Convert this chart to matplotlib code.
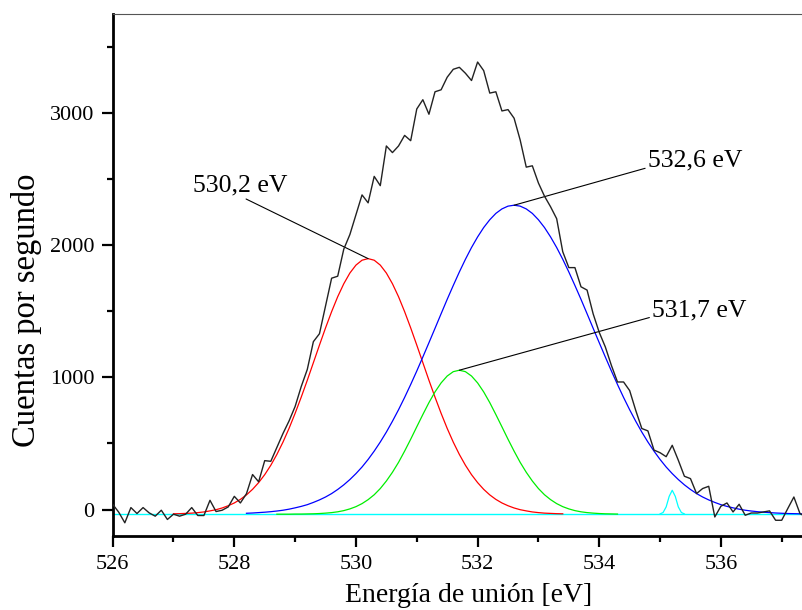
import numpy as np
import matplotlib
matplotlib.use("Agg")
import matplotlib.pyplot as plt

plt.rcParams['font.family'] = ['Liberation Serif', 'DejaVu Serif']

# measured spectrum, 0.1 eV steps starting at 526.0 eV
counts = [40, -20, -100, 15, -30, 15, -25, -50, -5, -75,
          -35, -50, -35, 15, -45, -45, 70, -15, -5, 20,
          100, 50, 120, 265, 210, 370, 365, 470, 575, 670,
          780, 930, 1060, 1270, 1330, 1540, 1750, 1765, 1970, 2080,
          2230, 2380, 2320, 2520, 2450, 2750, 2700, 2750, 2830, 2790,
          3030, 3100, 2990, 3160, 3175, 3270, 3330, 3345, 3300, 3245,
          3385, 3320, 3150, 3160, 3015, 3025, 2960, 2795, 2590, 2600,
          2470, 2370, 2290, 2200, 1950, 1830, 1830, 1685, 1660, 1480,
          1340, 1230, 1090, 965, 965, 900, 750, 613, 595, 450,
          430, 400, 486, 373, 252, 234, 121, 159, 176, -56,
          25, 50, -18, 40, -43, -26, -26, -18, -10, -81,
          -81, 8, 95, -30, -56]
energy = np.round(526.0 + 0.1 * np.arange(len(counts)), 1)

# fitted components, read every 0.1 eV
red_start = 527.0
red = [-32, -31, -29, -27, -23, -18, -10, -1, 12, 29,
       50, 77, 111, 153, 204, 264, 335, 417, 510, 614,
       728, 850, 978, 1111, 1244, 1374, 1497, 1610, 1708, 1789,
       1849, 1886, 1898,
       1886, 1849, 1789, 1708, 1610, 1497, 1374, 1244, 1111, 978,
       850, 728, 614, 510, 417, 335, 264, 204, 153, 111,
       77, 50, 29, 12, -1, -10, -18, -23, -27, -29, -31, -32]

green_start = 528.7
green = [-35, -35, -35, -34, -34, -33, -32, -30, -27, -23,
         -17, -8, 5, 22, 45, 75, 112, 159, 216, 282,
         357, 442, 532, 626, 719, 809, 890, 958, 1010, 1043,
         1054,
         1043, 1010, 958, 890, 809, 719, 626, 532, 442, 357,
         282, 216, 159, 112, 75, 45, 22, 5, -8, -17,
         -23, -27, -30, -32, -33, -34]

blue_start = 528.2
blue = [-28, -26, -23, -20, -16, -11, -5, 3, 13, 24,
        37, 54, 73, 95, 121, 152, 187, 227, 272, 322,
        379, 442, 511, 586, 668, 755, 848, 946, 1048, 1154,
        1262, 1371, 1481, 1590, 1695, 1797, 1893, 1982, 2062, 2133,
        2192, 2240, 2274, 2295, 2302,
        2295, 2274, 2240, 2192, 2133, 2062, 1982, 1893, 1797, 1695,
        1590, 1481, 1371, 1262, 1154, 1048, 946, 848, 755, 668,
        586, 511, 442, 379, 322, 272, 227, 187, 152, 121,
        95, 73, 54, 37, 24, 13, 3, -5, -11, -16,
        -20, -23, -26, -28, -30, -31, -32, -33]

# small peak near 535.2 eV, read every 0.05 eV
cyan_start = 535.0
cyan_peak = [-33, -22, 20, 100, 146, 100, 20, -22, -33]
baseline = -35

peaks = [("530,2 eV", 530.2, 1898), ("532,6 eV", 532.6, 2302), ("531,7 eV", 531.7, 1054)]


def grid(start, n, step):
    return np.round(start + step * np.arange(n), 2)


fig = plt.figure(figsize=(8.03, 6.10), dpi=100)
ax = fig.add_axes([0.1403, 0.1213, 0.8597, 0.8557])

ax.axhline(baseline, color="#00ffff", lw=1.0, zorder=2)
ax.plot(grid(red_start, len(red), 0.1), red, color="#ff0000", lw=0.9, zorder=3)
ax.plot(grid(green_start, len(green), 0.1), green, color="#00ee00", lw=0.9, zorder=3)
ax.plot(grid(blue_start, len(blue), 0.1), blue, color="#0000ff", lw=0.9, zorder=3)
ax.plot(grid(cyan_start, len(cyan_peak), 0.05), cyan_peak, color="#00ffff", lw=0.9, zorder=3)
ax.plot(energy, counts, color="#222222", lw=1.0, zorder=4)

# labels with leader lines to the peak tops
label_pos = [(528.10, 2370, "center", "bottom", (0.5, 0.0)),
             (534.80, 2637, "left", "center", (0.0, 0.2)),
             (534.87, 1508, "left", "center", (0.0, 0.2))]
for (txt, px, py), (tx, ty, ha, va, rel) in zip(peaks, label_pos):
    ax.annotate(txt, xy=(px, py), xytext=(tx, ty), textcoords="data",
                ha=ha, va=va, fontsize=18.5,
                arrowprops=dict(arrowstyle="-", color="black", lw=0.8,
                                shrinkA=0, shrinkB=0, relpos=rel))

ax.set_xlim(526, 537.35)
ax.set_ylim(-200, 3748)
ax.set_xticks([526, 528, 530, 532, 534, 536])
ax.set_xticks(np.arange(527, 538, 2), minor=True)
ax.set_yticks([0, 1000, 2000, 3000])
ax.set_yticks([500, 1500, 2500, 3500], minor=True)

ax.spines["right"].set_visible(False)
ax.spines["top"].set_linewidth(0.8)
ax.spines["top"].set_color("#555555")
ax.spines["left"].set_linewidth(2.0)
ax.spines["bottom"].set_linewidth(2.0)

ax.tick_params(which="major", direction="out", length=8, width=1.6, labelsize=16)
ax.tick_params(axis="x", which="major", pad=6)
ax.tick_params(axis="y", which="major", pad=5)
ax.tick_params(which="minor", direction="out", length=4, width=1.6)
ax.tick_params(top=False, right=False)

ax.set_xlabel("Energía de unión [eV]", fontsize=20)
ax.set_ylabel("Cuentas por segundo", fontsize=23.5)
ax.xaxis.set_label_coords(0.516, -0.09)
ax.yaxis.set_label_coords(-0.103, 0.433)

fig.savefig("out.png", dpi=100)
